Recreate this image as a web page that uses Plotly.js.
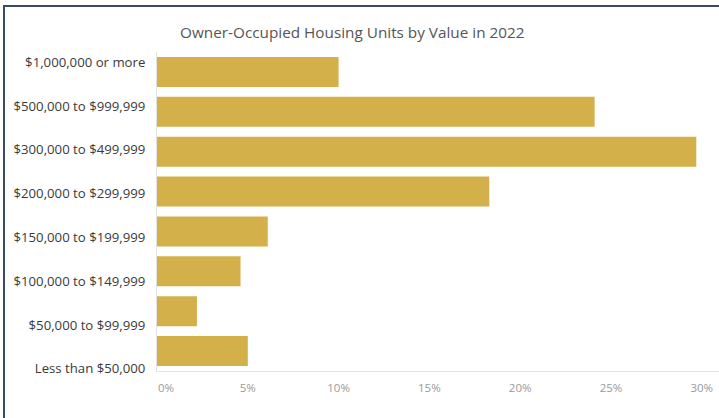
<!DOCTYPE html>
<html>
<head>
<meta charset="utf-8">
<script src="https://cdn.plot.ly/plotly-3.0.1.min.js"></script>
<style>
  html, body { margin: 0; padding: 0; background: #ffffff; }
  #chart { position: absolute; left: 0; top: 0; width: 719px; height: 418px; }
  #frame { position: absolute; left: 3px; top: 5px; width: 716px; height: 413px;
           border-top: 2px solid #3a4c61; border-left: 2px solid #3a4c61;
           box-sizing: border-box; pointer-events: none; z-index: 10; }
</style>
</head>
<body>
<div id="chart"></div>
<div id="frame"></div>
<script>
const categories = [
  "Less than $50,000",
  "$50,000 to $99,999",
  "$100,000 to $149,999",
  "$150,000 to $199,999",
  "$200,000 to $299,999",
  "$300,000 to $499,999",
  "$500,000 to $999,999",
  "$1,000,000 or more"
];
const sharePct = [5.0, 2.2, 4.6, 6.1, 18.3, 29.7, 24.1, 10.0];
const tickValues = [0, 5, 10, 15, 20, 25, 30];
const tickLabels = ["\u00a0\u00a0\u00a0\u00a0\u00a0\u00a00%", "5%", "10%", "15%", "20%", "25%", "30%"];
const chartTitle = "Owner-Occupied Housing Units by Value in 2022";

const bars = {
  type: "bar",
  orientation: "h",
  y: categories,
  x: sharePct,
  xaxis: "x",
  yaxis: "y",
  marker: { color: "#d3b04a", line: { width: 0 } },
  hoverinfo: "none"
};

// carries the category labels (the reference's label column is spaced slightly wider than the bars)
const labelCarrier = {
  type: "scatter",
  mode: "markers",
  y: categories,
  x: sharePct,
  xaxis: "x",
  yaxis: "y2",
  marker: { opacity: 0, size: 1 },
  hoverinfo: "none"
};

const layout = {
  width: 719,
  height: 418,
  margin: { l: 157, r: 0, t: 42, b: 29 },
  paper_bgcolor: "#ffffff",
  plot_bgcolor: "rgba(0,0,0,0)",
  bargap: 0.25,
  showlegend: false,
  font: { family: "Open Sans, sans-serif" },
  title: {
    text: chartTitle,
    x: 0.49, xanchor: "center",
    y: 0.921, yanchor: "middle",
    font: { size: 15.3, color: "#555555", family: "Open Sans, sans-serif" }
  },
  xaxis: {
    anchor: "y",
    range: [0, 30.95],
    tickvals: tickValues,
    ticktext: tickLabels,
    showgrid: false,
    zeroline: false,
    showline: true,
    linecolor: "#e3e3e3",
    linewidth: 1,
    ticks: "outside",
    ticklen: 6,
    tickcolor: "rgba(0,0,0,0)",
    tickfont: { size: 11.5, color: "#9a9a9a" },
    fixedrange: true
  },
  yaxis: {
    type: "category",
    categoryorder: "array",
    categoryarray: categories,
    domain: [0.0519, 0.9712],
    anchor: "x",
    showgrid: false,
    zeroline: false,
    showline: true,
    linecolor: "#e3e3e3",
    linewidth: 1,
    showticklabels: false,
    ticks: "",
    fixedrange: true
  },
  yaxis2: {
    type: "category",
    categoryorder: "array",
    categoryarray: categories,
    domain: [0, 1],
    anchor: "x",
    showgrid: false,
    zeroline: false,
    showline: false,
    ticks: "outside",
    ticklen: 8,
    tickcolor: "rgba(0,0,0,0)",
    tickfont: { size: 13.2, color: "#3a3a3a" },
    fixedrange: true
  }
};

Plotly.newPlot("chart", [bars, labelCarrier], layout, { staticPlot: true, displayModeBar: false });
</script>
</body>
</html>
